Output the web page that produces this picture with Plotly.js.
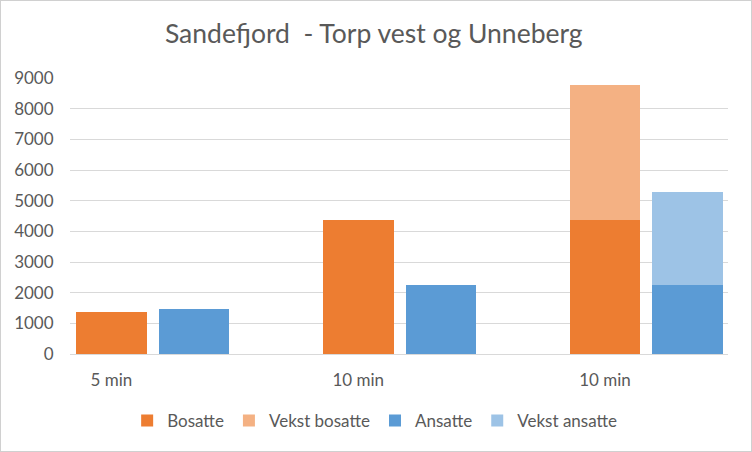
<!DOCTYPE html>
<html>
<head>
<meta charset="utf-8">
<script src="https://cdn.plot.ly/plotly-3.0.1.min.js"></script>
<style>
  html, body { margin: 0; padding: 0; background: #ffffff; }
  #chart { width: 750px; height: 450px; border: 1px solid #d0d0d0; }
</style>
</head>
<body>
<div id="chart"></div>
<script>
// Data
const categories = ["5 min", "10 min", "10 min"];
const bosatte = [1370, 4370, 4370];
const vekstBosatte = [null, null, 4400];
const ansatte = [1470, 2250, 2250];
const vekstAnsatte = [null, null, 3030];
const yTicks = [0, 1000, 2000, 3000, 4000, 5000, 6000, 7000, 8000, 9000];

const colors = {
  bosatte: "#ED7D31",
  vekstBosatte: "#F4B183",
  ansatte: "#5B9BD5",
  vekstAnsatte: "#9DC3E6"
};

const idx = categories.map((_, i) => i);
const blueOffset = 0.335;
const barWidth = 0.2865;
const xOrange = idx;
const xBlue = idx.map(i => i + blueOffset);

const font = "Lato, 'Open Sans', sans-serif";
const textColor = "#595959";

const traces = [
  { type: "bar", name: "Bosatte", x: xOrange, y: bosatte, width: barWidth,
    marker: { color: colors.bosatte }, hoverinfo: "y+name" },
  { type: "bar", name: "Vekst bosatte", x: xOrange, y: vekstBosatte, width: barWidth,
    marker: { color: colors.vekstBosatte }, hoverinfo: "y+name" },
  { type: "bar", name: "Ansatte", x: xBlue, y: ansatte, width: barWidth,
    marker: { color: colors.ansatte }, hoverinfo: "y+name" },
  { type: "bar", name: "Vekst ansatte", x: xBlue, y: vekstAnsatte, width: barWidth,
    marker: { color: colors.vekstAnsatte }, hoverinfo: "y+name" }
];

const layout = {
  width: 750,
  height: 450,
  barmode: "stack",
  paper_bgcolor: "#ffffff",
  plot_bgcolor: "#ffffff",
  font: { family: font, color: textColor, size: 17 },
  margin: { l: 69, r: 23, t: 77, b: 97, pad: 0 },
  title: {
    text: "Sandefjord  - Torp vest og Unneberg",
    font: { family: font, size: 26.5, color: textColor },
    x: 0.497, xref: "container", xanchor: "center",
    y: 0.927, yref: "container", yanchor: "middle"
  },
  xaxis: {
    type: "linear",
    range: [-0.168, 2.4985],
    tickvals: idx,
    ticktext: categories,
    showgrid: false,
    zeroline: false,
    showline: false,
    ticks: "outside",
    ticklen: 11,
    tickcolor: "rgba(0,0,0,0)",
    tickfont: { family: font, size: 17, color: textColor },
    fixedrange: true
  },
  yaxis: {
    range: [0, 9000],
    tickvals: yTicks,
    showgrid: true,
    gridcolor: "#d9d9d9",
    gridwidth: 1,
    zeroline: true,
    zerolinecolor: "#d9d9d9",
    zerolinewidth: 1,
    showline: false,
    ticks: "outside",
    ticklen: 12,
    tickcolor: "rgba(0,0,0,0)",
    tickfont: { family: font, size: 17, color: textColor },
    fixedrange: true
  },
  showlegend: true,
  legend: {
    orientation: "h",
    x: 0.463, xanchor: "center",
    y: -0.243, yanchor: "middle",
    font: { family: font, size: 17, color: textColor },
    traceorder: "normal",
    bgcolor: "rgba(0,0,0,0)"
  },
  bargap: 0
};

Plotly.newPlot("chart", traces, layout, { displayModeBar: false, staticPlot: false });
</script>
</body>
</html>
